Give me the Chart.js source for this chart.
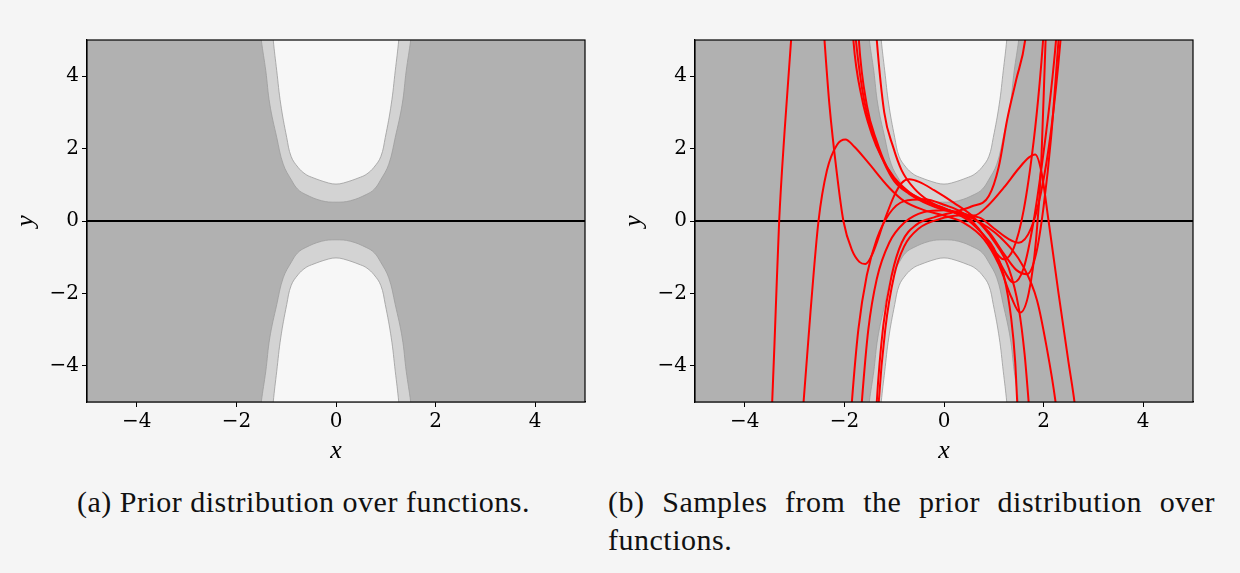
<!DOCTYPE html>
<html>
<head>
<meta charset="utf-8">
<script src="https://cdn.jsdelivr.net/npm/chart.js@4.4.1/dist/chart.umd.min.js"></script>
<style>
  html, body { margin: 0; padding: 0; background: #f5f5f5; }
  body { width: 1240px; height: 573px; position: relative; overflow: hidden; font-family: "Liberation Serif", serif; }
  .panel { position: absolute; top: 0; width: 600px; height: 470px; }
  .caption { position: absolute; top: 483px; font-size: 30px; line-height: 38px; letter-spacing: 0.5px; color: #111; }
</style>
</head>
<body>
<div class="panel" style="left:0"><canvas id="priorChart" width="600" height="470"></canvas></div>
<div class="panel" style="left:608px"><canvas id="samplesChart" width="600" height="470"></canvas></div>
<div class="caption" style="left:0; width:607px; text-align:center; white-space:nowrap">(a) Prior distribution over functions.</div>
<div class="caption" style="left:608px; width:607px; text-align:justify">(b) Samples from the prior distribution over functions.</div>

<script>
// axis ticks
const xTicks = [-4, -2, 0, 2, 4];
const yTicks = [-4, -2, 0, 2, 4];

// band edges (upper half; lower half mirrored)
const twoSigmaX = [-1.32, -1.26, -1.19, -1.11, -0.99, -0.90, -0.76, -0.62, -0.49, -0.15, 0, 0.15, 0.49, 0.62, 0.76, 0.90, 0.99, 1.11, 1.19, 1.26, 1.32];
const twoSigmaUpper = [6.0, 5.0, 4.15, 3.23, 2.31, 1.78, 1.48, 1.30, 1.21, 1.05, 1.02, 1.05, 1.21, 1.30, 1.48, 1.78, 2.31, 3.23, 4.15, 5.0, 6.0];
const twoSigmaLower = [-6.0, -5.0, -4.15, -3.23, -2.31, -1.78, -1.48, -1.30, -1.21, -1.05, -1.02, -1.05, -1.21, -1.30, -1.48, -1.78, -2.31, -3.23, -4.15, -5.0, -6.0];
const oneSigmaX = [-1.58, -1.50, -1.41, -1.33, -1.19, -1.06, -0.89, -0.77, -0.62, -0.29, 0, 0.29, 0.62, 0.77, 0.89, 1.06, 1.19, 1.33, 1.41, 1.50, 1.58];
const oneSigmaUpper = [6.0, 5.0, 4.15, 3.23, 2.31, 1.57, 1.12, 0.88, 0.74, 0.56, 0.52, 0.56, 0.74, 0.88, 1.12, 1.57, 2.31, 3.23, 4.15, 5.0, 6.0];
const oneSigmaLower = [-6.0, -5.0, -4.15, -3.23, -2.31, -1.57, -1.12, -0.88, -0.74, -0.56, -0.52, -0.56, -0.74, -0.88, -1.12, -1.57, -2.31, -3.23, -4.15, -5.0, -6.0];
const meanX = [-5, 5];
const meanY = [0, 0];

const sample1 = [[-3.55, -7], [-3.45, -5], [-3.38, -2.5], [-3.31, 0], [-3.2, 2.5], [-3.07, 5], [-2.9, 8], [-2.4, 10], [-1.95, 8], [-1.77, 5], [-1.6, 3.3], [-1.4, 2.3], [-1.2, 1.6], [-1.0, 1.1], [-0.7, 0.75], [-0.3, 0.45], [0, 0.3], [0.5, 0.15], [0.9, -0.3], [1.2, -0.9], [1.45, -1.35], [1.67, -1.47], [1.85, -0.9], [2.0, 0.4], [2.15, 2.3], [2.3, 5], [2.38, 6.5]];
const sample2 = [[-2.95, -7], [-2.82, -5], [-2.68, -2.5], [-2.52, 0], [-2.35, 1.4], [-2.15, 2.1], [-1.98, 2.25], [-1.8, 2.05], [-1.55, 1.66], [-1.1, 0.92], [-0.8, 0.55], [-0.4, 0.3], [0, 0.15], [0.4, -0.05], [0.8, -0.5], [1.1, -1.2], [1.35, -2.1], [1.53, -2.53], [1.7, -2.0], [1.85, -0.5], [1.95, 1.5], [2.04, 5], [2.1, 7]];
const sample3 = [[-2.5, 7], [-2.40, 5], [-2.3, 3.2], [-2.15, 1.3], [-2.02, 0], [-1.85, -0.8], [-1.7, -1.13], [-1.58, -1.19], [-1.45, -0.95], [-1.2, 0.0], [-1.0, 0.7], [-0.85, 1.05], [-0.7, 1.15], [-0.5, 1.08], [-0.2, 0.85], [0.2, 0.5], [0.6, 0.1], [1.0, -0.55], [1.3, -1.3], [1.5, -2.4], [1.62, -3.7], [1.70, -5], [1.76, -6]];
const sample4 = [[-1.45, 7], [-1.35, 5], [-1.2, 3.0], [-1.02, 2.04], [-0.85, 1.4], [-0.6, 0.9], [-0.3, 0.55], [0, 0.35], [0.3, 0.2], [0.6, 0.15], [0.9, 0.45], [1.2, 0.92], [1.5, 1.45], [1.7, 1.75], [1.83, 1.84], [1.95, 1.4], [2.1, 0], [2.3, -2.0], [2.5, -3.9], [2.62, -5], [2.7, -6]];
const sample5 = [[-1.9, 7], [-1.82, 5], [-1.65, 3.4], [-1.45, 2.4], [-1.25, 1.75], [-1.0, 1.2], [-0.7, 0.8], [-0.3, 0.5], [0.1, 0.3], [0.5, 0.0], [0.8, -0.4], [1.0, -0.75], [1.2, -1.5], [1.35, -2.7], [1.43, -3.9], [1.47, -5], [1.51, -6]];
const sample6 = [[-1.78, 7], [-1.71, 5], [-1.55, 3.2], [-1.35, 2.2], [-1.15, 1.5], [-0.9, 1.0], [-0.6, 0.7], [-0.2, 0.45], [0.2, 0.25], [0.6, 0.05], [1.13, -0.45], [1.6, -1.28], [1.87, -2.2], [2.05, -3.4], [2.24, -5], [2.32, -6]];
const sample7 = [[-1.95, -7], [-1.85, -5], [-1.72, -3.0], [-1.55, -1.5], [-1.35, -0.5], [-1.1, 0.2], [-0.8, 0.55], [-0.4, 0.6], [0, 0.45], [0.4, 0.2], [0.8, -0.4], [1.1, -1.1], [1.4, -1.70], [1.6, -1.3], [1.8, 0.0], [2.0, 1.9], [2.15, 3.6], [2.25, 5], [2.33, 6.5]];
const sample8 = [[-1.75, -7], [-1.65, -5], [-1.52, -3.0], [-1.35, -1.6], [-1.1, -0.6], [-0.8, -0.05], [-0.4, 0.25], [0, 0.3], [0.4, 0.15], [0.8, -0.4], [1.0, -0.8], [1.20, -1.06], [1.4, -0.75], [1.6, 0.3], [1.8, 2.2], [1.92, 3.8], [1.99, 5], [2.05, 6.3]];
const sample9 = [[-1.42, -7], [-1.35, -5], [-1.22, -2.9], [-1.05, -1.5], [-0.85, -0.6], [-0.55, -0.1], [-0.2, 0.1], [0.2, 0.25], [0.55, 0.4], [0.9, 0.69], [1.1, 1.5], [1.27, 2.81], [1.45, 3.9], [1.63, 5], [1.7, 6]];
const sample10 = [[-1.38, -7], [-1.31, -5], [-1.18, -3.0], [-1.0, -1.5], [-0.8, -0.7], [-0.5, -0.2], [-0.1, 0.05], [0.3, 0.15], [0.7, 0.1], [1.0, -0.2], [1.3, -0.5], [1.5, -0.6], [1.75, -0.2], [1.95, 0.8], [2.15, 2.5], [2.34, 5], [2.42, 6.5]];
const samples = [sample1, sample2, sample3, sample4, sample5, sample6, sample7, sample8, sample9, sample10];

const darkGray = '#b1b1b1';
const lightGray = '#d3d3d3';
const white = '#f7f7f7';
const edgeGray = '#9c9c9c';

function pts(xs, ys) {
    return xs.map((x, i) => ({ x: x, y: ys[i] }));
}

function fmt(v) {
    return v < 0 ? '\u2212' + Math.abs(v) : String(v);
}

// dark gray plot background and black frame round the axes
const plotFrame = {
    id: 'plotFrame',
    beforeDatasetsDraw(chart) {
        const { ctx, chartArea: a } = chart;
        ctx.save();
        ctx.fillStyle = darkGray;
        ctx.fillRect(a.left, a.top, a.width, a.height);
        ctx.restore();
    },
    afterDraw(chart) {
        const { ctx, chartArea: a } = chart;
        ctx.save();
        ctx.strokeStyle = '#000';
        ctx.lineWidth = 1.2;
        ctx.strokeRect(a.left, a.top, a.width, a.height);
        ctx.restore();
    }
};

const tickFont = { family: 'DejaVu Serif', size: 20 };
const titleFont = { family: 'Liberation Serif', style: 'italic', size: 26 };

function band(xs, ys, fill, color, order) {
    return {
        data: pts(xs, ys),
        fill: fill,
        backgroundColor: color,
        borderColor: edgeGray,
        borderWidth: 0.8,
        tension: 0.4,
        capBezierPoints: false,
        clip: 0,
        order: order
    };
}

function makeChart(id, withSamples) {
    const datasets = [];
    if (withSamples) {
        samples.forEach(s => {
            datasets.push({
                data: s.map(p => ({ x: p[0], y: p[1] })),
                borderColor: '#ff0000',
                borderWidth: 2,
                cubicInterpolationMode: 'monotone',
                fill: false,
                clip: 0,
                order: 0
            });
        });
    }
    datasets.push({ data: pts(meanX, meanY), borderColor: '#000', borderWidth: 2, fill: false, clip: 0, order: 1 });
    datasets.push(band(twoSigmaX, twoSigmaUpper, 'end', white, 2));
    datasets.push(band(twoSigmaX, twoSigmaLower, 'start', white, 2));
    datasets.push(band(oneSigmaX, oneSigmaUpper, 'end', lightGray, 3));
    datasets.push(band(oneSigmaX, oneSigmaLower, 'start', lightGray, 3));

    return new Chart(document.getElementById(id), {
        type: 'line',
        data: { datasets: datasets },
        options: {
            responsive: false,
            animation: false,
            events: [],
            elements: { point: { radius: 0 } },
            layout: { padding: { top: 40, right: 15, left: 0, bottom: 0 } },
            plugins: { legend: { display: false }, tooltip: { enabled: false } },
            scales: {
                x: {
                    type: 'linear',
                    min: -5,
                    max: 5,
                    afterBuildTicks: s => { s.ticks = xTicks.map(v => ({ value: v })); },
                    afterFit: s => { s.height = 68; },
                    ticks: { callback: fmt, font: tickFont, color: '#000', padding: 3, maxRotation: 0, autoSkip: false },
                    grid: { drawOnChartArea: false, drawTicks: true, tickLength: 5, color: '#000', lineWidth: 1 },
                    border: { display: true, color: '#000', width: 1.2 },
                    title: { display: true, text: 'x', font: titleFont, color: '#000', padding: { top: 0, bottom: 3 } }
                },
                y: {
                    type: 'linear',
                    min: -5,
                    max: 5,
                    afterBuildTicks: s => { s.ticks = yTicks.map(v => ({ value: v })); },
                    afterFit: s => { s.width = 87; },
                    ticks: { callback: fmt, font: tickFont, color: '#000', padding: 3, autoSkip: false },
                    grid: { drawOnChartArea: false, drawTicks: true, tickLength: 5, color: '#000', lineWidth: 1 },
                    border: { display: true, color: '#000', width: 1.2 },
                    title: { display: true, text: 'y', font: titleFont, color: '#000', padding: { top: 11, bottom: 0 } }
                }
            }
        },
        plugins: [plotFrame]
    });
}

makeChart('priorChart', false);
makeChart('samplesChart', true);
</script>
</body>
</html>
